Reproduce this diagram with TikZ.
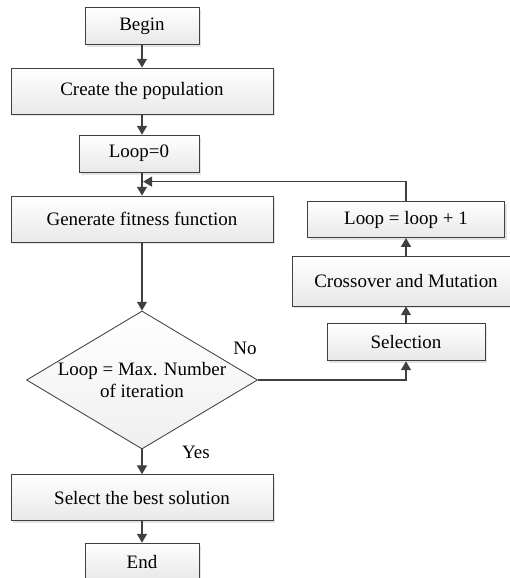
\documentclass[tikz,border=0pt]{standalone}
\usepackage{fontspec}
\setmainfont{Liberation Serif}
\usepackage{tikz}
\usetikzlibrary{arrows.meta,positioning,shapes.geometric,shadows}
\usepackage{xcolor}
\definecolor{linegray}{RGB}{64,64,64}
\definecolor{boxgray}{RGB}{232,232,232}
\definecolor{shadowgray}{RGB}{200,200,200}

\begin{document}
\begin{tikzpicture}[
    every node/.style={font=\fontsize{13.5pt}{15pt}\selectfont},
    stepbox/.style={draw=linegray, line width=0.6pt, top color=white, bottom color=boxgray,
      drop shadow={shadow xshift=0.06cm, shadow yshift=-0.06cm, fill=shadowgray},
      inner sep=0pt},
    decision/.style={diamond, draw=linegray, line width=0.6pt, top color=white,
      bottom color=boxgray!70, inner sep=0pt},
    arr/.style={draw=linegray, line width=0.8pt, -{Triangle[length=0.22cm,width=0.25cm]}}
  ]
  \useasboundingbox (0,0) rectangle (12.75,-14.45);

  % main column
  \node[stepbox, minimum width=2.85cm, minimum height=0.925cm] (begin) at (3.55,-0.66) {Begin};
  \node[stepbox, minimum width=6.55cm, minimum height=1.15cm] (create) at (3.55,-2.275) {Create the population};
  \node[stepbox, minimum width=3.0cm, minimum height=0.925cm] (loop0) at (3.475,-3.84) {Loop=0};
  \node[stepbox, minimum width=6.55cm, minimum height=1.15cm] (gen) at (3.55,-5.475) {Generate fitness function};
  \node[decision, minimum width=5.775cm, minimum height=3.45cm,
    label={[align=center]center:Loop = Max. Number\\of iteration}] (dec) at (3.55,-9.5) {};
  \node[stepbox, minimum width=6.55cm, minimum height=1.15cm] (best) at (3.55,-12.44) {Select the best solution};
  \node[stepbox, minimum width=2.85cm, minimum height=0.925cm] (end) at (3.55,-14.04) {End};

  % loop column
  \node[stepbox, minimum width=4.925cm, minimum height=0.9cm] (incr) at (10.15,-5.49) {Loop = loop + 1};
  \node[stepbox, minimum width=5.7cm, minimum height=1.25cm] (cross) at (10.15,-7.025) {Crossover and Mutation};
  \node[stepbox, minimum width=3.95cm, minimum height=0.925cm] (sel) at (10.15,-8.56) {Selection};
  \coordinate (merge) at (3.58,-4.54);

  % branch labels
  \node (no) at (6.125,-8.72) {No};
  \node (yes) at (4.9,-11.3) {Yes};

  % connectors
  \draw[arr] (begin) -- (create);
  \draw[arr] (create.south) -- (create.south |- loop0.north);
  \draw[arr] (loop0.south -| gen.north) -- (gen.north);
  \draw[arr] (gen) -- (dec);
  \draw[arr] (dec) -- (best);
  \draw[arr] (best) -- (end);
  \draw[arr] (dec.east) -| (sel.south);
  \draw[arr] (sel) -- (cross);
  \draw[arr] (cross) -- (incr);
  \draw[arr] (incr.north) |- (merge);
\end{tikzpicture}
\end{document}
